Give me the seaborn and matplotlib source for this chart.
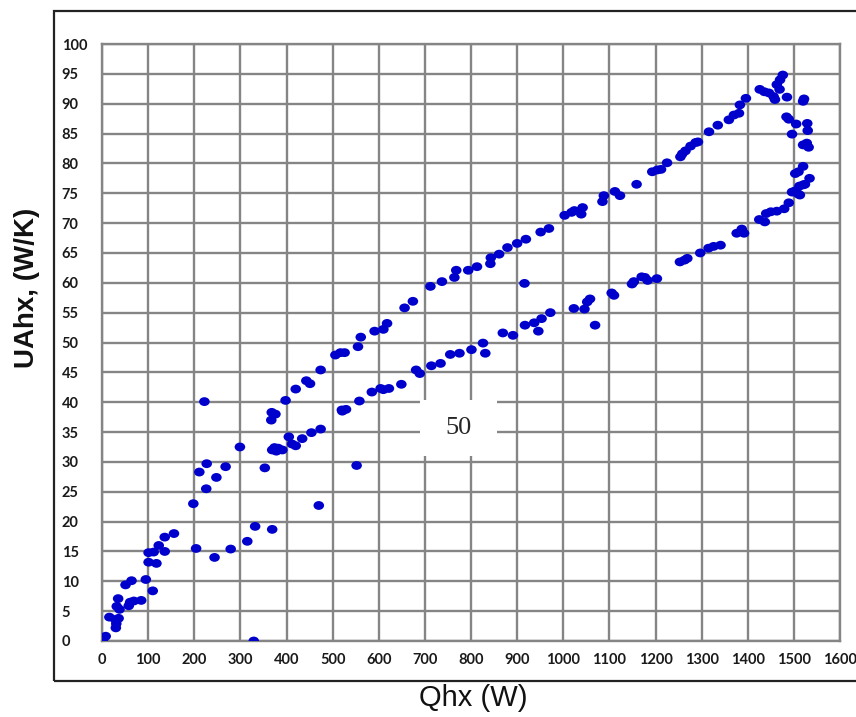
import numpy as np
import pandas as pd
import matplotlib
matplotlib.use("Agg")
import matplotlib.pyplot as plt
from matplotlib.path import Path
from matplotlib.transforms import Affine2D
from matplotlib.patches import Rectangle
import seaborn as sns

# ---------------- data ----------------
qhx_low = [2, 8, 16, 29, 36, 30, 31, 35, 32, 38, 58, 61, 69, 85, 51, 64, 95, 110,
           101, 118, 101, 112, 123, 136, 136, 156, 198, 204, 244, 279, 315, 332,
           369, 329, 211, 227, 226, 248, 268, 299, 353, 222, 470]
uahx_low = [0.2, 0.8, 4.0, 3.6, 3.8, 2.2, 2.9, 7.1, 5.8, 5.3, 5.9, 6.5, 6.7, 6.8, 9.4, 10.1, 10.3, 8.4,
            13.2, 13.0, 14.8, 14.9, 16.0, 15.0, 17.4, 18.0, 23.0, 15.5, 14.0, 15.4, 16.7, 19.2,
            18.7, 0.0, 28.3, 29.7, 25.5, 27.4, 29.2, 32.5, 29.0, 40.1, 22.7]

qhx_upper = [367, 368, 376, 398, 420, 443, 451, 474, 506, 517, 526, 555, 561, 591, 610,
             618, 656, 674, 712, 737, 764, 768, 794, 813, 842, 843, 861, 879, 900,
             919, 951, 969, 1003, 1018, 1024, 1042, 1039, 1085, 1088, 1112, 1123,
             1159, 1193, 1204, 1212, 1225, 1254, 1258, 1265, 1276, 1287, 1292, 1316,
             1335, 1359, 1370, 1381, 1383, 1396]
uahx_upper = [37.0, 38.3, 38.0, 40.3, 42.2, 43.6, 43.1, 45.4, 47.9, 48.3, 48.3, 49.3, 50.9, 51.9, 52.2,
              53.2, 55.8, 56.9, 59.4, 60.2, 60.9, 62.1, 62.1, 62.7, 63.2, 64.2, 64.8, 65.9, 66.6,
              67.3, 68.5, 69.1, 71.3, 71.8, 72.1, 72.6, 71.5, 73.6, 74.6, 75.3, 74.6,
              76.5, 78.6, 78.9, 79.0, 80.1, 81.1, 81.6, 82.1, 82.9, 83.5, 83.6, 85.3,
              86.4, 87.3, 88.1, 88.4, 89.8, 90.9]

qhx_turn = [1426, 1436, 1446, 1456, 1459, 1463, 1470, 1476, 1469, 1485, 1520, 1522,
            1484, 1489, 1505, 1529, 1530, 1496, 1520, 1532, 1528, 1520, 1510, 1503,
            1534, 1524, 1512, 1503, 1513, 1496, 1520, 1509, 1489, 1479, 1463, 1450,
            1440, 1425, 1437]
uahx_turn = [92.4, 92.0, 91.8, 91.2, 90.7, 93.2, 94.0, 94.8, 92.4, 91.1, 90.4, 90.8,
             87.8, 87.4, 86.6, 86.7, 85.5, 84.9, 83.1, 82.7, 83.4, 79.5, 78.6, 78.3,
             77.5, 76.5, 76.2, 75.4, 74.7, 75.2, 76.4, 74.9, 73.4, 72.4, 72.0, 71.9,
             71.6, 70.6, 70.2]

qhx_lower = [369, 374, 378, 382, 391, 405, 412, 420, 434, 454, 474, 520, 552, 521, 529,
             558, 585, 604, 610, 622, 649, 681, 689, 714, 734, 755, 775, 801, 826,
             831, 869, 891, 917, 937, 953, 972, 946, 916, 1023, 1046, 1058, 1052,
             1069, 1105, 1110, 1149, 1153, 1170, 1177, 1183, 1203, 1253, 1263, 1269,
             1297, 1315, 1326, 1341, 1376, 1387, 1392]
uahx_lower = [32.0, 32.4, 31.8, 32.3, 32.0, 34.2, 33.0, 32.7, 33.9, 34.9, 35.5, 38.7, 29.4, 38.5, 38.8,
              40.2, 41.7, 42.3, 42.1, 42.3, 43.0, 45.4, 44.8, 46.1, 46.5, 48.0, 48.2, 48.8, 49.9,
              48.2, 51.6, 51.2, 52.9, 53.3, 54.0, 55.0, 51.9, 59.9, 55.7, 55.6, 57.3, 56.8,
              52.9, 58.3, 57.9, 59.8, 60.2, 61.0, 60.9, 60.4, 60.7, 63.5, 63.8, 64.1,
              65.0, 65.8, 66.1, 66.3, 68.3, 69.0, 68.3]

x_ticks = list(range(0, 1601, 100))
y_ticks = list(range(0, 101, 5))
x_label = "Qhx (W)"
y_label = "UAhx, (W/K)"
box_text = "50"

df = pd.DataFrame({
    "Qhx": qhx_low + qhx_upper + qhx_turn + qhx_lower,
    "UAhx": uahx_low + uahx_upper + uahx_turn + uahx_lower,
})

# ---------------- style ----------------
sns.set_style("white")
plt.rcParams["font.family"] = ["Lato", "DejaVu Sans"]

W, H = 856, 717
fig = plt.figure(figsize=(W / 100, H / 100), dpi=100)
fig.patch.set_facecolor("white")

# axes placement (pixels -> figure fraction)
left_px, right_px, top_px, bottom_px = 102, 840, 44, 641
ax = fig.add_axes([left_px / W, 1 - bottom_px / H,
                   (right_px - left_px) / W, (bottom_px - top_px) / H])

# outer frame
frame = Rectangle((54 / W, 1 - 681 / H), 1.2, (681 - 11) / H,
                  transform=fig.transFigure, fill=False, edgecolor="#222222",
                  linewidth=1.6, clip_on=False, zorder=0)
fig.patches.append(frame)

# oval dot marker
ell = Affine2D().scale(1.2, 1.0).transform_path(Path.unit_circle())
sns.scatterplot(data=df, x="Qhx", y="UAhx", ax=ax, marker=ell, s=58,
                color="#0000CC", edgecolor="none", linewidth=0, zorder=3,
                legend=False)

ax.set_xlim(0, 1600)
ax.set_ylim(0, 100)
ax.set_xticks(x_ticks)
ax.set_yticks(y_ticks)
ax.set_xticklabels([str(t) for t in x_ticks], fontsize=10.5, fontweight="bold",
                   color="#1a1a1a")
ax.set_yticklabels([str(t) for t in y_ticks], fontsize=10.5, fontweight="bold",
                   color="#1a1a1a")
ax.tick_params(axis="both", length=0)
ax.tick_params(axis="x", pad=9)
ax.tick_params(axis="y", pad=29)
for lab in ax.get_yticklabels():
    lab.set_horizontalalignment("left")

ax.grid(True, color="#858585", linewidth=1.7, zorder=0)
ax.set_axisbelow(True)
for sp in ax.spines.values():
    sp.set_color("#858585")
    sp.set_linewidth(1.7)

ax.set_xlabel("")
ax.set_ylabel("")
fig.text(473 / W, 1 - 698 / H, x_label, ha="center", va="center",
         fontsize=21, family=["Liberation Sans", "DejaVu Sans"], color="#111111")
fig.text(27 / W, 1 - 288 / H, y_label, ha="center", va="center", rotation=90,
         fontsize=20, fontweight="bold", family=["Liberation Sans", "DejaVu Sans"],
         color="#111111")

# white label box with "50"
bx0, bx1, by0, by1 = 420, 497, 400, 456
box = Rectangle(((bx0 - left_px) / (right_px - left_px),
                 (bottom_px - by1) / (bottom_px - top_px)),
                (bx1 - bx0) / (right_px - left_px),
                (by1 - by0) / (bottom_px - top_px),
                transform=ax.transAxes, facecolor="white", edgecolor="none",
                zorder=4)
ax.add_patch(box)
ax.text(((bx0 + bx1) / 2 - left_px) / (right_px - left_px),
        (bottom_px - (by0 + by1) / 2) / (bottom_px - top_px),
        box_text, transform=ax.transAxes, ha="center", va="center",
        fontsize=19, family=["Liberation Serif", "DejaVu Serif"], zorder=5)

fig.savefig("out.png", dpi=100, facecolor="white")
